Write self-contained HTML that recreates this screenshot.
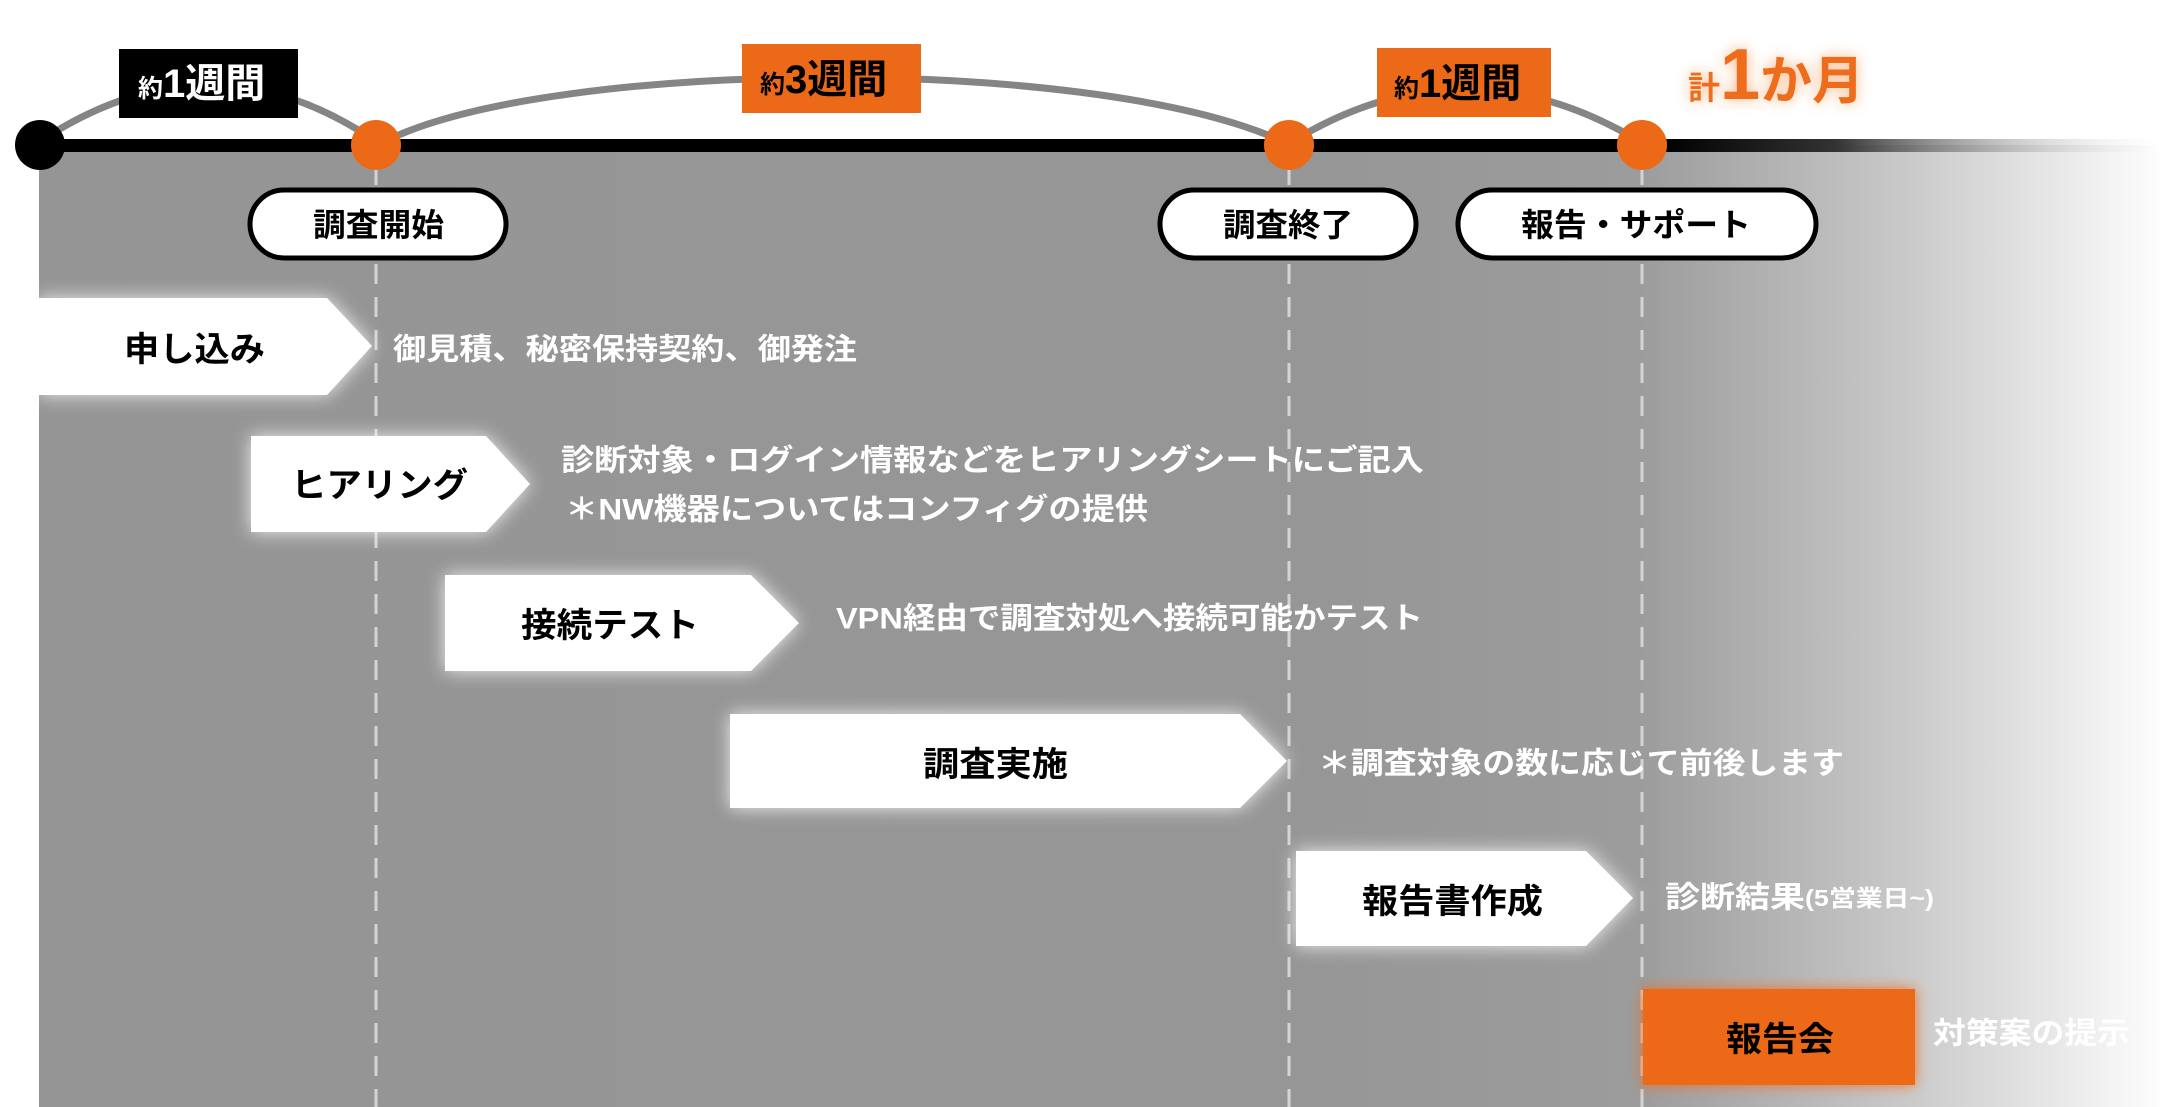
<!DOCTYPE html>
<html><head><meta charset="utf-8"><style>
html,body{margin:0;padding:0;background:#fff;}
svg{display:block;}
text{font-family:"Liberation Sans","Noto Sans CJK JP",sans-serif;font-weight:bold;}
</style></head><body>
<svg width="2160" height="1107" viewBox="0 0 2160 1107" xmlns="http://www.w3.org/2000/svg">
<defs>
<linearGradient id="bg" x1="0" y1="0" x2="2160" y2="0" gradientUnits="userSpaceOnUse">
<stop offset="0" stop-color="#959595"/>
<stop offset="0.6" stop-color="#969696"/>
<stop offset="0.76" stop-color="#9c9c9c"/>
<stop offset="0.88" stop-color="#c8c8c8"/>
<stop offset="1" stop-color="#fdfdfd"/>
</linearGradient>
<linearGradient id="ln" x1="0" y1="0" x2="2160" y2="0" gradientUnits="userSpaceOnUse">
<stop offset="0" stop-color="#000"/>
<stop offset="0.77" stop-color="#000"/>
<stop offset="0.85" stop-color="#333"/>
<stop offset="1" stop-color="#fff" stop-opacity="0.2"/>
</linearGradient>
<filter id="glow" x="-20%" y="-40%" width="140%" height="180%"><feGaussianBlur stdDeviation="9"/></filter>
<filter id="oglow" x="-20%" y="-40%" width="140%" height="180%"><feGaussianBlur stdDeviation="7"/></filter>
</defs>

<rect x="39" y="145" width="2121" height="962" fill="url(#bg)"/>

<!-- dashed lines -->
<g stroke="#d4d4d4" stroke-width="3" stroke-dasharray="20 13">
<line x1="376" y1="165" x2="376" y2="1107"/>
<line x1="1289" y1="165" x2="1289" y2="1107"/>
<line x1="1642" y1="165" x2="1642" y2="1107"/>
</g>

<!-- arcs -->
<g fill="none" stroke="#858585" stroke-width="7">
<path d="M42,140 Q210,30 374,140"/>
<path d="M392,138 C560,60 1080,55 1275,138"/>
<path d="M1298,138 Q1465,40 1634,138"/>
</g>

<!-- timeline -->
<rect x="40" y="139" width="2120" height="13" fill="url(#ln)"/>
<circle cx="40" cy="145" r="25" fill="#000"/>
<g fill="#ec6a17">
<circle cx="376" cy="145" r="25"/>
<circle cx="1289" cy="145" r="25"/>
<circle cx="1642" cy="145" r="25"/>
</g>

<!-- duration labels -->
<rect x="119" y="49" width="179" height="69" fill="#000"/>
<text x="138" y="97" fill="#fff" font-size="25">約<tspan font-size="40">1週間</tspan></text>
<rect x="742" y="44" width="179" height="69" fill="#ec6a17"/>
<text x="760" y="93" fill="#000" font-size="25">約<tspan font-size="40">3週間</tspan></text>
<rect x="1377" y="48" width="174" height="69" fill="#ec6a17"/>
<text x="1394" y="97" fill="#000" font-size="25">約<tspan font-size="40">1週間</tspan></text>

<g filter="url(#oglow)" fill="#f7a060" opacity="0.8">
<text x="1688" y="99" font-size="32">計<tspan font-size="72">1</tspan><tspan font-size="52">か月</tspan></text>
</g>
<text x="1688" y="99" font-size="32" fill="#ee6d1c">計<tspan font-size="72">1</tspan><tspan font-size="52">か月</tspan></text>

<!-- pills -->
<g fill="#fff" stroke="#000" stroke-width="5">
<rect x="250" y="190" width="256" height="68" rx="34"/>
<rect x="1160" y="190" width="256" height="68" rx="34"/>
<rect x="1458" y="190" width="358" height="68" rx="34"/>
</g>
<g font-size="32" fill="#000" dominant-baseline="central">
<text x="313" y="225" textLength="131" lengthAdjust="spacingAndGlyphs">調査開始</text>
<text x="1223" y="225" textLength="130" lengthAdjust="spacingAndGlyphs">調査終了</text>
<text x="1521" y="225" textLength="230" lengthAdjust="spacingAndGlyphs">報告・サポート</text>
</g>

<!-- arrow glows -->
<g fill="#fff" filter="url(#glow)" opacity="0.85">
<polygon points="39,298 327,298 372,346 327,395 39,395"/>
<polygon points="251,436 486,436 530,484 486,532 251,532"/>
<polygon points="445,575 751,575 799,623 751,671 445,671"/>
<polygon points="730,714 1240,714 1287,761 1240,808 730,808"/>
<polygon points="1296,851 1586,851 1633,898 1586,946 1296,946"/>
</g>
<rect x="1643" y="989" width="272" height="96" fill="#f36a1c" filter="url(#oglow)" opacity="0.9"/>
<g fill="#fff">
<polygon points="39,298 327,298 372,346 327,395 39,395"/>
<polygon points="251,436 486,436 530,484 486,532 251,532"/>
<polygon points="445,575 751,575 799,623 751,671 445,671"/>
<polygon points="730,714 1240,714 1287,761 1240,808 730,808"/>
<polygon points="1296,851 1586,851 1633,898 1586,946 1296,946"/>
</g>
<rect x="1643" y="989" width="272" height="96" fill="#ec6a17"/>

<g font-size="34" fill="#000" dominant-baseline="central">
<text x="124" y="350" textLength="141" lengthAdjust="spacingAndGlyphs">申し込み</text>
<text x="291" y="486" textLength="177" lengthAdjust="spacingAndGlyphs">ヒアリング</text>
<text x="521" y="626" textLength="178" lengthAdjust="spacingAndGlyphs">接続テスト</text>
<text x="923" y="765" textLength="145" lengthAdjust="spacingAndGlyphs">調査実施</text>
<text x="1362" y="902" textLength="181" lengthAdjust="spacingAndGlyphs">報告書作成</text>
<text x="1726" y="1040" textLength="108" lengthAdjust="spacingAndGlyphs">報告会</text>
</g>

<g font-size="30" fill="#fff" dominant-baseline="central">
<text x="393" y="350" textLength="464" lengthAdjust="spacingAndGlyphs">御見積、秘密保持契約、御発注</text>
<text x="561" y="461" textLength="863" lengthAdjust="spacingAndGlyphs">診断対象・ログイン情報などをヒアリングシートにご記入</text>
<text x="565" y="510" textLength="583" lengthAdjust="spacingAndGlyphs">＊NW機器についてはコンフィグの提供</text>
<text x="836" y="619" textLength="587" lengthAdjust="spacingAndGlyphs">VPN経由で調査対処へ接続可能かテスト</text>
<text x="1318" y="764" textLength="526" lengthAdjust="spacingAndGlyphs">＊調査対象の数に応じて前後します</text>
<text x="1665" y="898" textLength="269" lengthAdjust="spacingAndGlyphs">診断結果<tspan font-size="23">(5営業日~)</tspan></text>
<text x="1933" y="1034" textLength="197" lengthAdjust="spacingAndGlyphs">対策案の提示</text>
</g>
</svg>
</body></html>
